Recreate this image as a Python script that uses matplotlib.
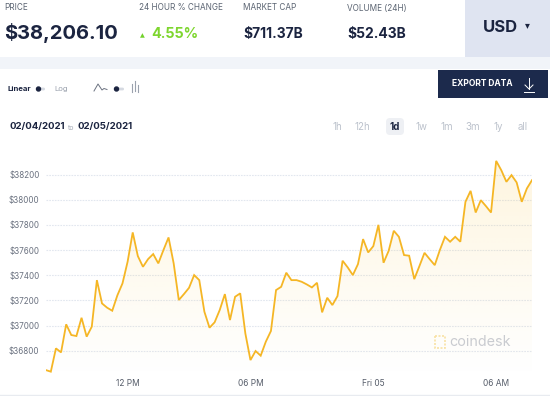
import matplotlib
matplotlib.use("Agg")
import matplotlib.pyplot as plt
import matplotlib.dates as mdates
from matplotlib.patches import Rectangle, FancyBboxPatch, Polygon
from matplotlib.lines import Line2D
import numpy as np
import pandas as pd

# ---------------- data ----------------
start_time = "2021-02-04 08:00"
prices = [36647, 36634, 36819, 36787, 37010, 36925, 36917, 37062, 36912, 36991,
          37361, 37176, 37142, 37118, 37240, 37335, 37507, 37740, 37552, 37467,
          37528, 37568, 37494, 37600, 37700, 37494, 37203, 37250, 37300, 37401,
          37361, 37110, 36983, 37026, 37124, 37250, 37044, 37229, 37256, 36938,
          36726, 36798, 36761, 36872, 36957, 37282, 37308, 37420, 37361, 37361,
          37348, 37327, 37303, 37340, 37105, 37221, 37163, 37234, 37515, 37462,
          37401, 37488, 37687, 37581, 37631, 37800, 37499, 37594, 37753, 37705,
          37560, 37555, 37369, 37472, 37578, 37528, 37480, 37600, 37705, 37666,
          37705, 37666, 37983, 38070, 37898, 37996, 37949, 37898, 38308, 38234,
          38142, 38195, 38137, 37983, 38089, 38155]
y_ticks = [36800, 37000, 37200, 37400, 37600, 37800, 38000, 38200]
x_tick_times = ["2021-02-04 12:00", "2021-02-04 18:00", "2021-02-05 00:00", "2021-02-05 06:00"]
x_tick_labels = ["12 PM", "06 PM", "Fri 05", "06 AM"]

stat_labels = ["PRICE", "24 HOUR % CHANGE", "MARKET CAP", "VOLUME (24H)"]
stat_values = ["$38,206.10", "4.55%", "$711.37B", "$52.43B"]
timeframes = ["1h", "12h", "1d", "1w", "1m", "3m", "1y", "all"]
timeframe_x = [337, 362, 395, 422, 447, 473, 498, 523]
date_from, date_to = "02/04/2021", "02/05/2021"

times = pd.date_range(start_time, periods=len(prices), freq="15min")

# ---------------- figure ----------------
W, H = 550, 396
FONT = ["Inter", "DejaVu Sans"]
plt.rcParams["font.family"] = FONT
fig = plt.figure(figsize=(W / 100, H / 100), dpi=100)
fig.patch.set_facecolor("white")

ui = fig.add_axes([0, 0, 1, 1])
ui.set_xlim(0, W)
ui.set_ylim(H, 0)
ui.axis("off")

NAVY = "#1b2440"
LABEL = "#5b6472"

# light band under header
ui.add_patch(Rectangle((0, 57), W, 12, facecolor="#f1f4f9", edgecolor="none"))
# USD box
ui.add_patch(Rectangle((465, 0), 85, 57, facecolor="#dfe4f1", edgecolor="none"))
ui.text(500, 28, "USD", fontsize=12, fontweight="bold", color=NAVY, ha="center", va="center")
ui.text(527, 25, "▾", fontsize=7, color=NAVY, ha="center", va="center", family="DejaVu Sans")

# header stats
label_x = [4, 139, 243, 347]
for lx, lab in zip(label_x, stat_labels):
    ui.text(lx, 8, lab, fontsize=5.9, color=LABEL, ha="left", va="center")
ui.text(4, 34, "$", fontsize=14.5, fontweight="bold", color=NAVY, ha="left", va="center")
ui.text(17, 34, stat_values[0][1:], fontsize=14.5, fontweight="bold", color=NAVY, ha="left", va="center")
ui.text(140, 36, "▲", fontsize=4.5, color="#72d12b", ha="left", va="center", family="DejaVu Sans")
ui.text(151, 34, stat_values[1], fontsize=10.3, fontweight="bold", color="#7ed62f", ha="left", va="center")
ui.text(243, 34, stat_values[2], fontsize=10, fontweight="bold", color=NAVY, ha="left", va="center")
ui.text(347, 34, stat_values[3], fontsize=10, fontweight="bold", color=NAVY, ha="left", va="center")

# export button
ui.add_patch(Rectangle((438, 70), 110, 28, facecolor="#1c2a4c", edgecolor="none"))
ui.text(482, 84, "EXPORT DATA", fontsize=6.1, fontweight="bold", color="white", ha="center", va="center")
ui.add_line(Line2D([529, 529], [78, 89], color="white", lw=0.7))
ui.add_line(Line2D([525, 529, 533], [85, 89, 85], color="white", lw=0.7))
ui.add_line(Line2D([524, 534], [91.5, 91.5], color="white", lw=0.7))

# toggles row
ui.text(7, 89, "Linear", fontsize=5.6, fontweight="bold", color=NAVY, ha="left", va="center")
ui.add_patch(FancyBboxPatch((38, 87.6), 7, 2.8, boxstyle="round,pad=0,rounding_size=1.4",
                            facecolor="#d5d9e1", edgecolor="none"))
ui.add_patch(plt.Circle((38.5, 89), 2.0, color=NAVY))
ui.text(54, 89, "Log", fontsize=5.6, color="#9aa1ad", ha="left", va="center")
ui.add_line(Line2D([94, 98, 102, 104, 107], [91, 84, 90, 88.5, 89.5], color="#6b7280", lw=0.7))
ui.add_patch(FancyBboxPatch((116, 87.6), 8, 2.8, boxstyle="round,pad=0,rounding_size=1.4",
                            facecolor="#d5d9e1", edgecolor="none"))
ui.add_patch(plt.Circle((116.5, 89), 2.0, color=NAVY))
for bx, b0, b1 in [(132, 84, 92), (135, 81, 91), (138, 85, 92)]:
    ui.add_line(Line2D([bx, bx], [b0, b1], color="#9aa1ad", lw=0.8))

# date range
ui.text(9, 127, date_from, fontsize=6.9, fontweight="bold", color=NAVY, ha="left", va="center")
ui.text(68, 127.5, "to", fontsize=5, color="#a5acb8", ha="left", va="center")
ui.text(77, 127, date_to, fontsize=6.9, fontweight="bold", color=NAVY, ha="left", va="center")

# timeframe buttons
for tx, tf in zip(timeframe_x, timeframes):
    if tf == "1d":
        ui.add_patch(FancyBboxPatch((tx - 9, 118), 18, 17, boxstyle="round,pad=0,rounding_size=4",
                                    facecolor="#eef0f4", edgecolor="none"))
        ui.text(tx, 126.5, tf, fontsize=7, fontweight="bold", color=NAVY, ha="center", va="center")
    else:
        ui.text(tx, 126.5, tf, fontsize=7, color="#bcc2cc", ha="center", va="center")

# bottom border
ui.add_line(Line2D([0, W], [394.5, 394.5], color="#e8ebf0", lw=1))

# watermark
ui.add_patch(Rectangle((435, 336), 10, 11.5, facecolor="none", edgecolor="#f8e3a8",
                       lw=1.2, linestyle=(0, (1.2, 0.9))))
ui.text(449, 341.5, "coindesk", fontsize=10.3, color="#c8ccd4", ha="left", va="center")

# ---------------- chart ----------------
y_lo, y_hi = 36600, 38400
px_per = 0.1259
top_px = 174.5 - (y_hi - 38200) * px_per
bot_px = 174.5 + (38200 - y_lo) * px_per
x_left, x_right = 45.7, 532.0
ax = fig.add_axes([x_left / W, 1 - bot_px / H, (x_right - x_left) / W, (bot_px - top_px) / H])
ax.set_facecolor("none")
ax.patch.set_alpha(0)

tnum = mdates.date2num(times.to_pydatetime())
ax.set_xlim(tnum[0], tnum[-1])
ax.set_ylim(y_lo, y_hi)

for yt in y_ticks:
    ax.axhline(yt, color="#e2e7ef", lw=0.8, linestyle=(0, (1.5, 1)), zorder=0)

# gradient fill under line
grad = np.linspace(0.2, 0.0, 256).reshape(-1, 1)
rgba = np.zeros((256, 1, 4))
rgba[..., 0] = 0.98
rgba[..., 1] = 0.80
rgba[..., 2] = 0.35
rgba[..., 3] = grad
im = ax.imshow(rgba, aspect="auto", extent=[tnum[0], tnum[-1], y_lo, y_hi],
               origin="upper", zorder=1, interpolation="bilinear")
poly = Polygon(np.column_stack([np.r_[tnum, tnum[-1], tnum[0]],
                                np.r_[prices, y_lo, y_lo]]),
               closed=True, transform=ax.transData, facecolor="none", edgecolor="none")
ax.add_patch(poly)
im.set_clip_path(poly)

ax.plot(tnum, prices, color="#f5b625", lw=1.3, zorder=3, solid_joinstyle="miter")

ax.set_yticks(y_ticks)
ax.set_yticklabels([f"${v}" for v in y_ticks], fontsize=5.8, color="#6b7280")
ax.set_xticks(mdates.date2num(pd.to_datetime(x_tick_times).to_pydatetime()))
ax.set_xticklabels(x_tick_labels, fontsize=6, color="#555c69")
ax.tick_params(axis="y", length=0, pad=4.5)
ax.tick_params(axis="x", length=0, pad=2)
for s in ax.spines.values():
    s.set_visible(False)

fig.savefig("out.png", dpi=100, facecolor="white")
